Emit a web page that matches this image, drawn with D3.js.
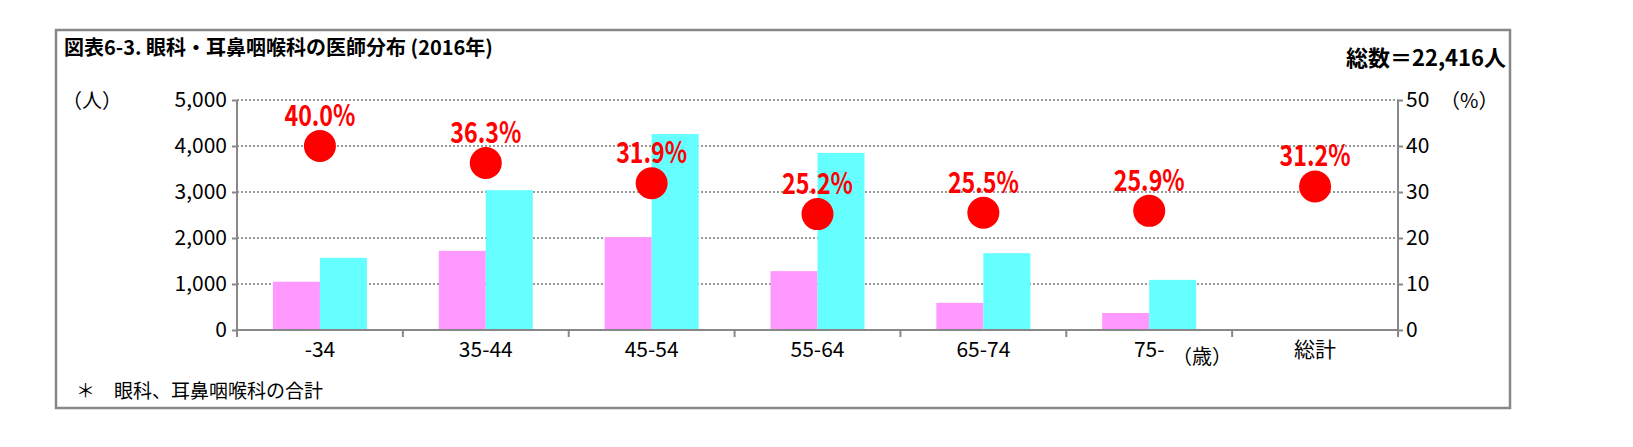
<!DOCTYPE html>
<html><head><meta charset="utf-8">
<script src="https://cdn.jsdelivr.net/npm/d3@7"></script>
<style>body{margin:0;background:#fff}svg{font-family:"Noto Sans CJK JP",sans-serif}</style>
</head><body><div id="chart"></div>
<script>
const categories = ["-34", "35-44", "45-54", "55-64", "65-74", "75-", "総計"];
const pinkValues = [1050, 1720, 2020, 1280, 590, 370, null];
const cyanValues = [1570, 3040, 4260, 3850, 1670, 1090, null];
const pctValues = [40.0, 36.3, 31.9, 25.2, 25.5, 25.9, 31.2];
const leftTicks = [0, 1000, 2000, 3000, 4000, 5000];
const rightTicks = [0, 10, 20, 30, 40, 50];

const svg = d3.select("#chart").append("svg").attr("width", 1633).attr("height", 447);

svg.append("rect").attr("x", 56).attr("y", 30).attr("width", 1454).attr("height", 378)
  .attr("fill", "#fff").attr("stroke", "#888").attr("stroke-width", 2.5);

svg.append("text").attr("x", 64).attr("y", 55).attr("font-size", 20).attr("font-weight", "bold")
  .text("図表6-3. 眼科・耳鼻咽喉科の医師分布 (2016年)");
svg.append("text").attr("x", 1506).attr("y", 66).attr("text-anchor", "end").attr("font-size", 22)
  .attr("font-weight", "bold").text("総数＝22,416人");

const x0 = 237, x1 = 1398, yTop = 100, yBot = 330;
const x = d3.scaleBand().domain(categories).range([x0, x1]);
const yL = d3.scaleLinear().domain([0, 5000]).range([yBot, yTop]);
const yR = d3.scaleLinear().domain([0, 50]).range([yBot, yTop]);

// grid
svg.append("g").selectAll("line").data(leftTicks.slice(1)).join("line")
  .attr("x1", x0).attr("x2", x1).attr("y1", d => yL(d)).attr("y2", d => yL(d))
  .attr("stroke", "#333").attr("stroke-dasharray", "2,2");

const bw = 47;
svg.append("g").selectAll("rect").data(categories.map((c, i) => [c, pinkValues[i]]).filter(d => d[1] != null))
  .join("rect").attr("x", d => x(d[0]) + x.bandwidth() / 2 - bw).attr("width", bw)
  .attr("y", d => yL(d[1])).attr("height", d => yBot - yL(d[1])).attr("fill", "#ff99ff");
svg.append("g").selectAll("rect").data(categories.map((c, i) => [c, cyanValues[i]]).filter(d => d[1] != null))
  .join("rect").attr("x", d => x(d[0]) + x.bandwidth() / 2).attr("width", bw)
  .attr("y", d => yL(d[1])).attr("height", d => yBot - yL(d[1])).attr("fill", "#66ffff");

// axes
const fmt = d3.format(",");
const gl = svg.append("g").attr("transform", `translate(${x0},0)`)
  .call(d3.axisLeft(yL).tickValues(leftTicks).tickFormat(fmt).tickSize(5));
const gr = svg.append("g").attr("transform", `translate(${x1},0)`)
  .call(d3.axisRight(yR).tickValues(rightTicks).tickSize(5));
const gx = svg.append("g").attr("transform", `translate(0,${yBot})`)
  .call(d3.axisBottom(x).tickSize(0).tickPadding(12));
[gl, gr, gx].forEach(g => {
  g.selectAll("path,line").attr("stroke", "#888").attr("stroke-width", 2);
  g.selectAll("text").attr("font-size", 21).attr("fill", "#000").attr("font-family", "Noto Sans CJK JP");
});
gl.selectAll("text").attr("x", -10);
gl.select(".domain").attr("d", `M0,${yBot}V${yTop}`);
gr.select(".domain").attr("d", `M0,${yBot}V${yTop}`);
gx.select(".domain").attr("d", `M${x0},0H${x1}`);
svg.append("g").selectAll("line").data(d3.range(categories.length + 1)).join("line")
  .attr("x1", i => x0 + i * x.step()).attr("x2", i => x0 + i * x.step())
  .attr("y1", yBot).attr("y2", yBot + 7).attr("stroke", "#888").attr("stroke-width", 2);

svg.append("text").attr("x", 62).attr("y", 108).attr("font-size", 20).text("（人）");
svg.append("text").attr("x", 1440).attr("y", 108).attr("font-size", 20).text("（%）");
svg.append("text").attr("x", 1172).attr("y", 364).attr("font-size", 20).text("（歳）");
svg.append("text").attr("x", 76).attr("y", 398).attr("font-size", 19).text("＊　眼科、耳鼻咽喉科の合計");

// dots
svg.append("g").selectAll("circle").data(categories.map((c, i) => [c, pctValues[i]])).join("circle")
  .attr("cx", d => x(d[0]) + x.bandwidth() / 2).attr("cy", d => yR(d[1])).attr("r", 16).attr("fill", "#ff0000");
svg.append("g").selectAll("text").data(categories.map((c, i) => [c, pctValues[i]])).join("text")
  .attr("x", d => x(d[0]) + x.bandwidth() / 2).attr("y", d => yR(d[1]) - 20)
  .attr("text-anchor", "middle").attr("font-size", 29).attr("font-weight", "bold").attr("fill", "#ff0000")
  .attr("transform", d => `translate(${x(d[0]) + x.bandwidth() / 2},0) scale(0.8,1) translate(${-(x(d[0]) + x.bandwidth() / 2)},0)`)
  .text(d => d[1].toFixed(1) + "%");
</script></body></html>
